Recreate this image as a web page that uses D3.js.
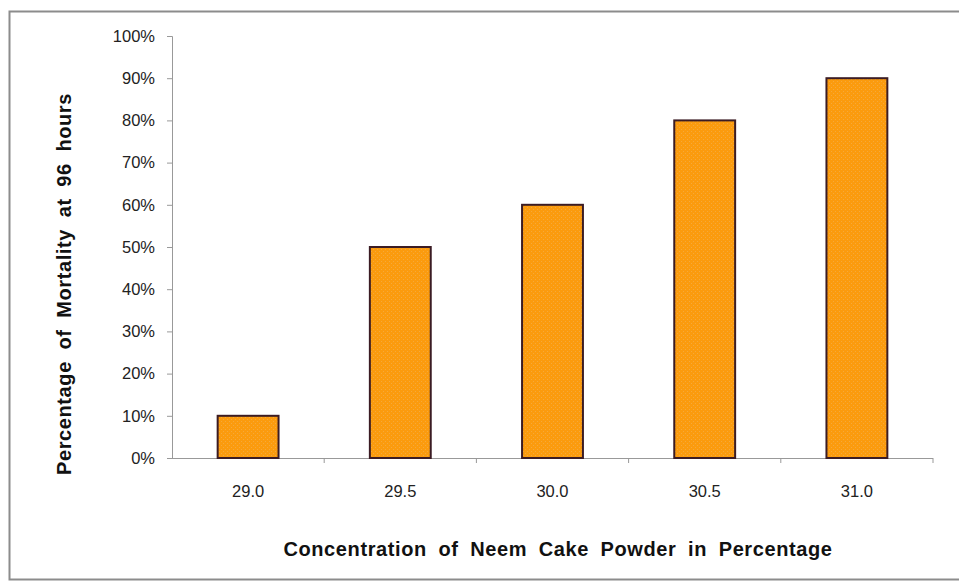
<!DOCTYPE html>
<html>
<head>
<meta charset="utf-8">
<script src="https://cdn.jsdelivr.net/npm/d3@7"></script>
<style>
  html, body { margin: 0; padding: 0; background: #fff; }
  svg { display: block; }
  text { font-family: "Liberation Sans", Arial, sans-serif; }
</style>
</head>
<body>
<svg id="chart" width="959" height="583"></svg>
<script>
// Mortality after 96 hours at each neem cake powder concentration
const concentrations = ["29.0", "29.5", "30.0", "30.5", "31.0"];
const mortality = [10, 50, 60, 80, 90];
const yTicks = [0, 10, 20, 30, 40, 50, 60, 70, 80, 90, 100];

const svg = d3.select("#chart");
const W = 959, H = 583;
const m = { left: 172, right: 26, top: 36, bottom: 125 };

// outer chart frame
svg.append("rect")
  .attr("x", 9.5).attr("y", 11.5)
  .attr("width", 960).attr("height", 568)
  .attr("fill", "#fff").attr("stroke", "#8c8c8c").attr("stroke-width", 2);

// fine dotted fill used on the bars
const defs = svg.append("defs");
const pat = defs.append("pattern")
  .attr("id", "dots").attr("patternUnits", "userSpaceOnUse")
  .attr("width", 4).attr("height", 4);
pat.append("rect").attr("width", 4).attr("height", 4).attr("fill", "#fb9b0e");
pat.append("rect").attr("x", 1).attr("y", 1).attr("width", 1).attr("height", 1).attr("fill", "#f6a93a");
pat.append("rect").attr("x", 3).attr("y", 3).attr("width", 1).attr("height", 1).attr("fill", "#f6a93a");

const x = d3.scaleBand()
  .domain(concentrations)
  .range([m.left, W - m.right])
  .paddingInner(0.6).paddingOuter(0.3);

const y = d3.scaleLinear().domain([0, 100]).range([H - m.bottom, m.top]);

// y axis
const yAxis = svg.append("g")
  .attr("transform", `translate(${m.left},0)`)
  .call(d3.axisLeft(y).tickValues(yTicks).tickSize(5).tickPadding(12).tickFormat(d => d + "%"));
yAxis.selectAll("text").attr("font-size", 16.5).attr("fill", "#222");

// x axis with tick marks at category boundaries
const x0 = m.left, x1 = W - m.right, y0 = y(0);
const xAxis = svg.append("g")
  .attr("transform", `translate(0,${y0})`)
  .call(d3.axisBottom(x).tickSize(0).tickPadding(27));
xAxis.select(".domain").remove();
xAxis.selectAll("text").attr("font-size", 16.5).attr("fill", "#222");
svg.append("line").attr("x1", x0).attr("x2", x1).attr("y1", y0 + 0.5).attr("y2", y0 + 0.5)
  .attr("stroke", "#999");
const bounds = d3.range(concentrations.length + 1).map(i => x0 + i * (x1 - x0) / concentrations.length);
svg.selectAll(".xt").data(bounds.slice(1)).join("line")
  .attr("x1", d => d).attr("x2", d => d)
  .attr("y1", y0).attr("y2", y0 + 5).attr("stroke", "#999");

yAxis.select(".domain").attr("stroke", "#999");
yAxis.selectAll(".tick line").attr("stroke", "#999");

// bars
svg.selectAll(".bar").data(concentrations).join("rect")
  .attr("class", "bar")
  .attr("x", d => x(d))
  .attr("y", (d, i) => y(mortality[i]))
  .attr("width", x.bandwidth())
  .attr("height", (d, i) => y(0) - y(mortality[i]))
  .attr("fill", "url(#dots)")
  .attr("stroke", "#3b1c24").attr("stroke-width", 2);

// axis titles
svg.append("text")
  .attr("x", 558).attr("y", 556)
  .attr("text-anchor", "middle")
  .attr("font-size", 20).attr("font-weight", "bold").attr("fill", "#111")
  .attr("letter-spacing", 0.6).attr("word-spacing", 5.5)
  .text("Concentration of Neem Cake Powder in Percentage");

svg.append("text")
  .attr("transform", `translate(71,284) rotate(-90)`)
  .attr("text-anchor", "middle")
  .attr("font-size", 20).attr("font-weight", "bold").attr("fill", "#111")
  .attr("letter-spacing", 0.6).attr("word-spacing", 5.5)
  .text("Percentage of Mortality at 96 hours");
</script>
</body>
</html>
